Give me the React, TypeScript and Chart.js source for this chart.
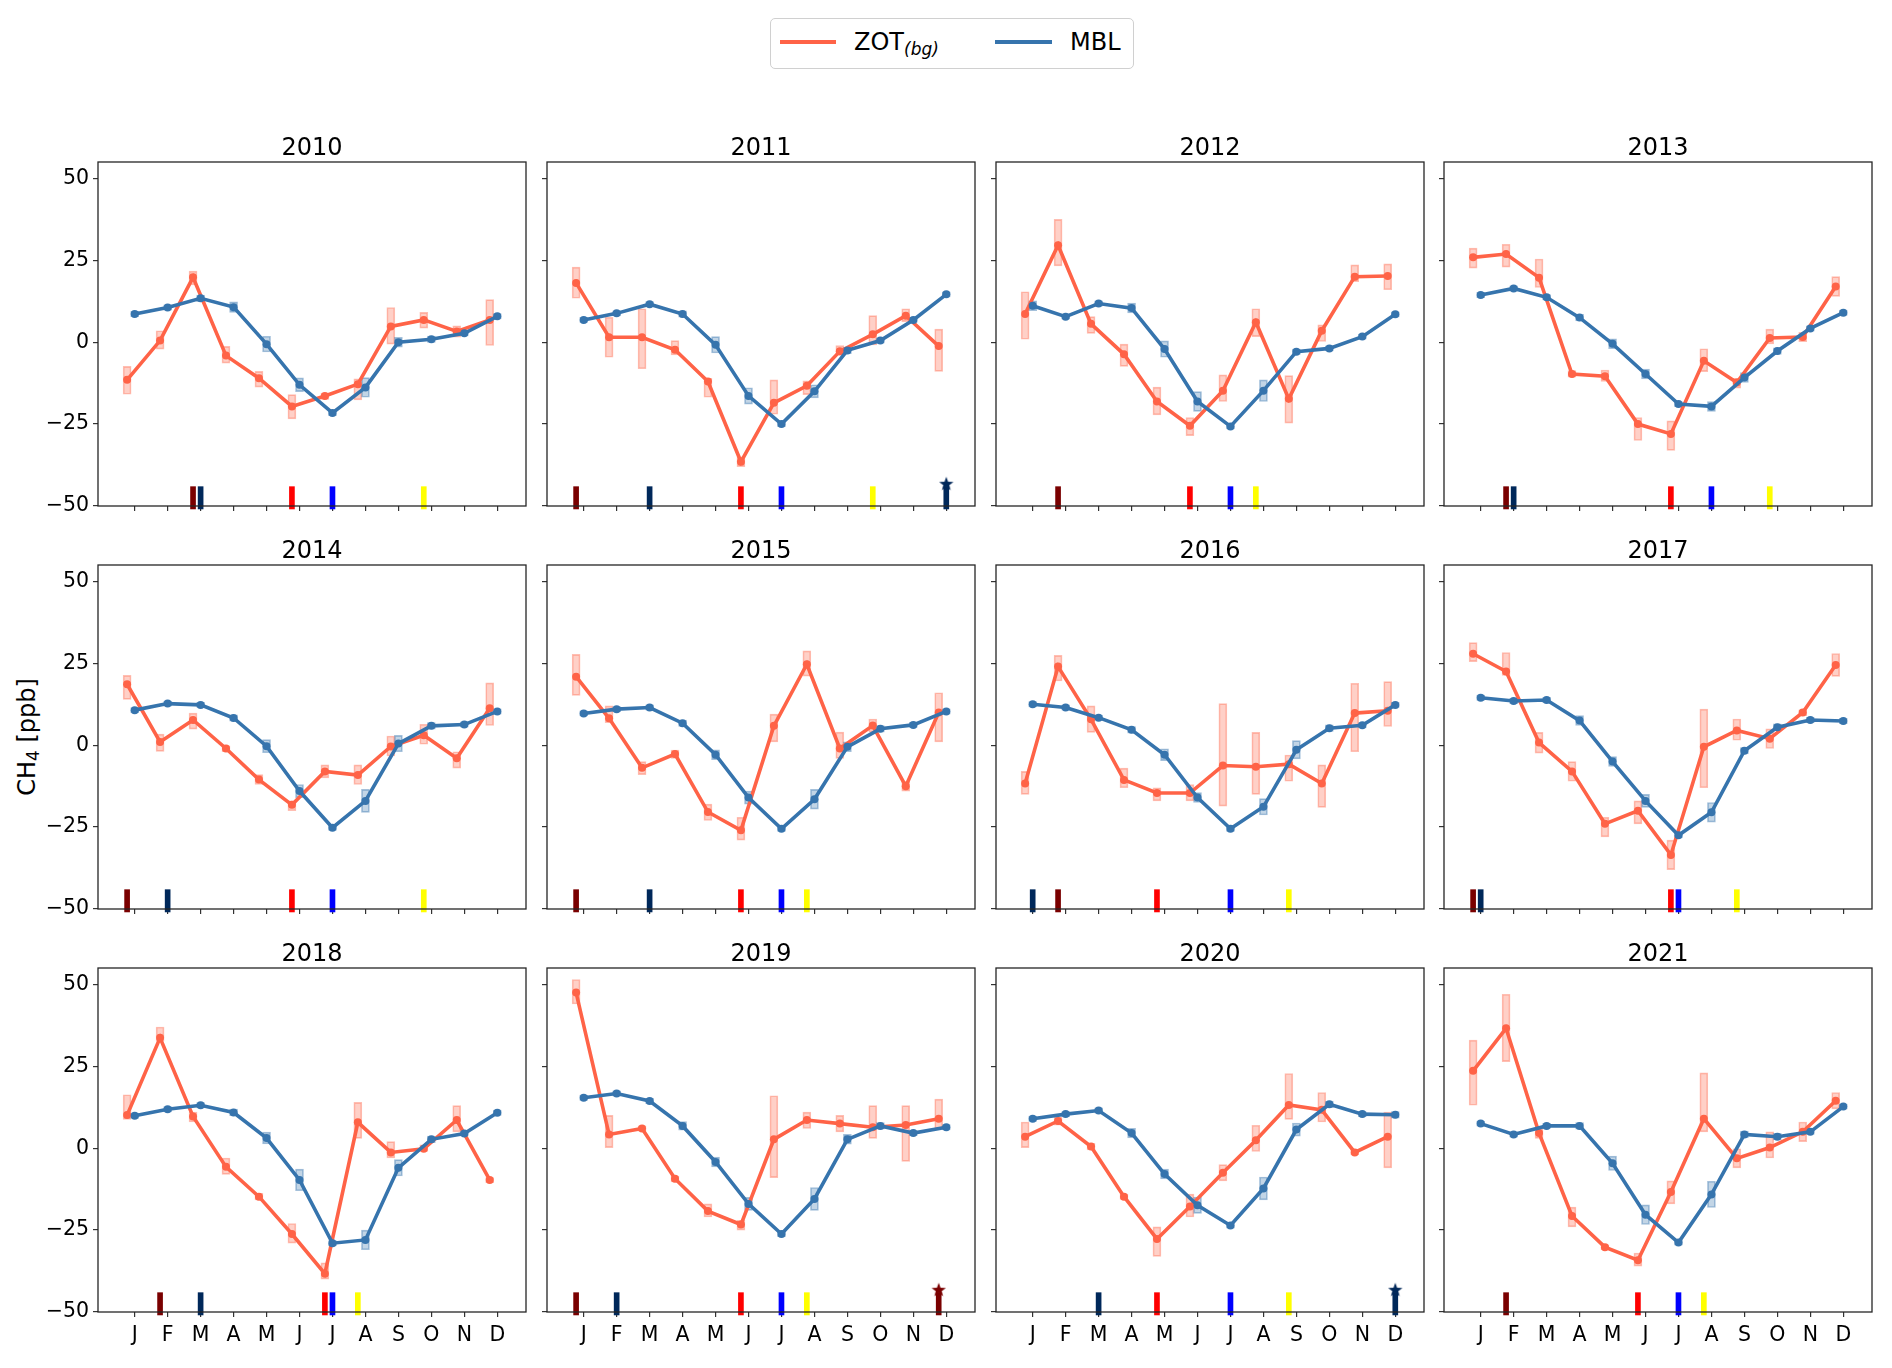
import React, { useEffect, useRef } from 'react';
import { Chart, registerables } from 'chart.js';

Chart.register(...registerables);

// ---------------- data ----------------
const YEARS = [2010, 2011, 2012, 2013, 2014, 2015, 2016, 2017, 2018, 2019, 2020, 2021];
const MONTHS = [1, 2, 3, 4, 5, 6, 7, 8, 9, 10, 11, 12];
const MONTH_LABELS = ['J', 'F', 'M', 'A', 'M', 'J', 'J', 'A', 'S', 'O', 'N', 'D'];
const Y_TICKS = [-50, -25, 0, 25, 50];
const ZOT_OFFSET = -0.23; // ZOT points sit a week before the MBL points

const ZOT_MEAN = [
  [-11.5, 0.5, 19.8, -4.1, -11, -19.6, -16.4, -12.8, 4.8, 6.8, 3.3, 6.8],
  [18.1, 1.5, 1.5, -2.3, -12, -36.5, -18.5, -13.3, -2.8, 2.4, 8.1, -1.2],
  [8.6, 29.6, 5.6, -3.7, -18.1, -25.5, -14.8, 6.1, -17.3, 3.5, 20, 20.2],
  [25.9, 26.9, 19.7, -9.7, -10.4, -25, -28, -5.7, -12.3, 1.3, 1.6, 17],
  [18.6, 1.0, 7.7, -1, -10.5, -18.2, -8, -9.1, -0.4, 3, -4, 11.3],
  [20.9, 8.2, -6.9, -2.7, -20.4, -26, 5.9, 24.7, -1, 6, -12.5, 10],
  [-11.7, 24, 7.9, -10.6, -14.6, -14.6, -6.2, -6.6, -5.8, -11.7, 9.8, 10.5],
  [27.9, 22.5, 0.8, -8, -24, -20, -33.5, -0.5, 4.5, 2, 10, 24.5],
  [10.1, 33.7, 9.7, -5.7, -14.8, -26.2, -38.3, 7.9, -1.3, -0.2, 8.6, -9.7],
  [47.5, 4.2, 6, -9.3, -19.2, -23.3, 2.7, 8.6, 7.5, 6.4, 7.1, 9],
  [3.5, 8.3, 0.5, -14.8, -27.7, -17.8, -7.5, 2.4, 13.2, 11.7, -1.3, 3.5],
  [23.6, 36.6, 4.6, -20.7, -30.2, -34.2, -13.4, 9, -3.1, 0.2, 5, 14.5],
];
const ZOT_HIGH = [
  [-7.4, 3.5, 21.7, -1.3, -8.9, -16, -15.5, -11.2, 10.6, 9.1, 5, 13],
  [22.9, 7.6, 10.2, 0.5, -11, -35, -11.5, -11.8, -1, 8.1, 10.2, 4],
  [15.4, 37.5, 7.8, -0.6, -13.7, -23, -10, 10.2, -10.2, 5.3, 23.6, 23.9],
  [28.7, 29.9, 25.4, -8.7, -8.5, -23, -24, -2, -11, 4, 3, 20],
  [21.3, 3.4, 9.8, 0, -9, -17, -6, -6, 2.8, 6.4, -2, 19],
  [27.7, 12, -5, -1.5, -18, -22, 9.5, 28.8, 4, 8, -11, 16],
  [-8, 27.4, 12, -7, -13, -12, 12.7, 3.9, -3, -6, 18.9, 19.4],
  [31.3, 28.3, 3.9, -5, -22, -17, -29, 11, 8, 5, 10.8, 28],
  [16.3, 37, 11, -3, -13.8, -23, -35, 14, 2, 1, 13, -9],
  [51.5, 10, 6.8, -8.5, -17, -22, 16, 11, 10, 13, 13, 15],
  [8, 9.5, 1.5, -14, -24, -14, -5, 7, 22.8, 17, -0.5, 11],
  [33, 47, 6, -18, -29.5, -32, -10, 23, 0, 5, 8, 17],
];
const ZOT_LOW = [
  [-15.9, -2.1, 17.5, -6.4, -13.7, -23.4, -17.5, -17.6, -0.6, 4.3, 1.5, -1],
  [13.4, -4.6, -8.1, -3.9, -16.8, -38, -22, -16, -4, -0.8, 6.3, -8.9],
  [0.9, 23.3, 2.7, -7.4, -22.2, -28.5, -18.1, 1.7, -24.7, 0.2, 18.5, 16],
  [22.6, 22.9, 16.7, -10.7, -12, -30, -33, -9, -14, -0.5, 0, 14],
  [14, -1.9, 4.9, -2, -12, -20, -10, -12, -3.3, 0.3, -7, 6],
  [15.2, 6.9, -9, -4, -23, -29, 1, 21.1, -4, 4, -14, 1],
  [-15, 19.6, 3.9, -13, -17, -17, -18.6, -15, -11, -19, -2, 5.7],
  [25.5, 21.3, -2.4, -11, -28, -24, -38, -13, 1.5, -1, 9, 21],
  [8.8, 32.7, 8, -8, -15.8, -29, -40, 3, -3, -1, 5, -10.5],
  [44, 0, 5.2, -10.3, -21, -25, -9, 6, 5, 3, -4, 6],
  [0, 7, -0.5, -15.6, -33, -21, -10, -1, 8.8, 8, -2, -6],
  [13.1, 26.4, 3, -24, -31, -36, -17, 5, -6, -3, 2, 12],
];
const MBL_MEAN = [
  [8.6, 10.6, 13.4, 10.7, -0.6, -13, -21.6, -13.8, 0, 0.9, 2.7, 7.9],
  [6.8, 8.8, 11.6, 8.6, -0.8, -16.4, -25, -15, -2.5, 0.5, 6.8, 14.6],
  [11.1, 7.8, 11.8, 10.4, -2.1, -18.1, -25.7, -14.8, -2.9, -1.9, 1.7, 8.5],
  [14.4, 16.4, 13.7, 7.5, -0.5, -9.7, -18.9, -19.6, -10.8, -2.7, 4.2, 9],
  [10.7, 12.7, 12.3, 8.3, -0.3, -14, -25.2, -17, 0.5, 5.9, 6.3, 10.3],
  [9.7, 11, 11.5, 6.7, -2.9, -16, -25.5, -16.5, -0.5, 5, 6.2, 10.3],
  [12.5, 11.5, 8.4, 4.7, -2.9, -16, -25.5, -18.8, -1.4, 5.2, 6.1, 12.3],
  [14.5, 13.5, 13.8, 7.5, -5, -17, -27.5, -20.5, -1.7, 5.5, 7.7, 7.4],
  [9.9, 11.9, 13.1, 10.9, 3.1, -9.7, -29, -28, -6, 2.7, 4.5, 10.8],
  [15.4, 16.7, 14.4, 6.8, -4.2, -17, -26.2, -15.5, 2.7, 6.8, 4.6, 6.4],
  [9, 10.4, 11.5, 4.6, -7.9, -17.4, -23.6, -12.3, 5.7, 13.4, 10.4, 10.2],
  [7.5, 4.2, 6.8, 6.8, -4.6, -20.3, -28.8, -14.1, 4.2, 3.5, 5, 12.7],
];
const MBL_ERR = [
  [0.8, 0.8, 1, 1.6, 2.4, 2.1, 0.8, 3, 1.5, 1, 0.8, 0.8],
  [0.8, 0.8, 0.8, 1, 2.5, 2.5, 0.8, 2, 1, 0.8, 0.8, 0.8],
  [1.5, 0.8, 0.8, 1.5, 2.5, 3, 0.8, 3.3, 0.8, 0.8, 0.8, 0.8],
  [0.8, 0.8, 0.8, 1, 1.5, 1.5, 0.8, 1.5, 1.5, 1, 0.8, 0.8],
  [0.8, 0.8, 0.8, 1, 2, 2, 0.8, 3.5, 2.5, 1, 0.8, 0.8],
  [0.8, 0.8, 0.8, 1, 1.5, 2, 0.8, 3, 1.5, 1, 0.8, 0.8],
  [0.8, 0.8, 0.8, 1, 1.8, 1.5, 0.8, 2.5, 2.8, 1, 0.8, 0.8],
  [0.8, 0.8, 0.8, 1.5, 1.5, 2, 0.8, 3, 1, 1, 0.8, 0.8],
  [0.8, 0.8, 0.8, 1, 1.8, 3.3, 0.8, 3, 2.5, 1, 0.8, 0.8],
  [0.8, 0.8, 0.8, 1.3, 1.5, 2, 0.8, 3.5, 1.5, 1, 0.8, 0.8],
  [0.8, 0.8, 0.8, 1.5, 1.5, 2.5, 0.8, 3.5, 2, 1, 0.8, 1],
  [0.8, 0.8, 0.8, 1, 2.2, 3, 0.8, 4, 1, 1, 0.8, 0.8],
];

// month markers under each panel (null = no marker)
const ZOT_MAX_MONTH = [3, 1, 2, 2, 1, 1, 2, 1, 2, 1, null, 2];
const MBL_MAX_MONTH = [3, 3, null, 2, 2, 3, 1, 1, 3, 2, 3, null];
const ZOT_MIN_MONTH = [6, 6, 6, 7, 6, 6, 5, 7, 7, 6, 5, 6];
const MBL_MIN_MONTH = [7, 7, 7, 8, 7, 7, 7, 7, 7, 7, 7, 7];
const ZOT_YELLOW_MONTH = [10, 10, 8, 10, 10, 8, 9, 9, 8, 8, 9, 8];
const STAR_YEARS = [2011, 2019, 2020];
const STAR_SERIES = ['mbl', 'zot', 'mbl'];
const STAR_MONTHS = [12, 12, 12];

// ---------------- style / layout ----------------
const ZOT_COLOR = '#ff6347';
const MBL_COLOR = '#3674ad';
const ZOT_BOX = 'rgba(255,99,71,0.30)';
const ZOT_BOX_EDGE = 'rgba(255,99,71,0.42)';
const MBL_BOX = 'rgba(54,116,173,0.30)';
const MBL_BOX_EDGE = 'rgba(54,116,173,0.45)';
const C_ZOT_MAX = '#7a0000';
const C_MBL_MAX = '#00285a';
const C_ZOT_MIN = '#ff0000';
const C_MBL_MIN = '#0000ff';
const C_YELLOW = '#ffff00';

const FONT = "'DejaVu Sans', sans-serif";
const COL_LEFT = [98, 547, 996, 1444];
const ROW_TOP = [162, 565, 968];
const PW = 428;
const PH = 344;
const AXW = 62;
const AXH = 44;
const PAD_T = 4;
const PAD_R = 4;
const X_MIN = -0.113;
const X_MAX = 12.871;
const Y_MIN = -50;
const Y_MAX = 55;
const MARK_LO = -50.9;
const MARK_HI = -44.1;
const STAR_Y = -43.2;

function starImage(color: string): HTMLCanvasElement {
  const c = document.createElement('canvas');
  c.width = 16;
  c.height = 16;
  const ctx = c.getContext('2d')!;
  ctx.fillStyle = color;
  ctx.beginPath();
  for (let i = 0; i < 10; i++) {
    const r = i % 2 === 0 ? 7.5 : 3.1;
    const a = -Math.PI / 2 + (i * Math.PI) / 5;
    const px = 8 + r * Math.cos(a);
    const py = 8.5 + r * Math.sin(a);
    if (i === 0) ctx.moveTo(px, py);
    else ctx.lineTo(px, py);
  }
  ctx.closePath();
  ctx.fill();
  return c;
}

const framePlugin = {
  id: 'frame',
  afterDraw(chart: any) {
    const { ctx, chartArea: a } = chart;
    ctx.save();
    ctx.strokeStyle = '#262626';
    ctx.lineWidth = 1.3;
    ctx.strokeRect(a.left, a.top, a.right - a.left, a.bottom - a.top);
    ctx.restore();
  },
};

function markerDataset(x: number, color: string) {
  return {
    type: 'bar' as const,
    data: [{ x, y: [MARK_LO, MARK_HI] }],
    backgroundColor: color,
    borderWidth: 0,
    barThickness: 5,
    maxBarThickness: 5,
    grouped: false,
    clip: false as any,
    order: 1,
  };
}

function buildConfig(i: number): any {
  const row = Math.floor(i / 4);
  const col = i % 4;
  const zotPts = MONTHS.map((m, k) => ({ x: m + ZOT_OFFSET, y: ZOT_MEAN[i][k] }));
  const mblPts = MONTHS.map((m, k) => ({ x: m, y: MBL_MEAN[i][k] }));
  const zotBoxes = MONTHS.map((m, k) => ({ x: m + ZOT_OFFSET, y: [ZOT_LOW[i][k], ZOT_HIGH[i][k]] }));
  const mblBoxes = MONTHS.map((m, k) => ({
    x: m,
    y: [MBL_MEAN[i][k] - MBL_ERR[i][k], MBL_MEAN[i][k] + MBL_ERR[i][k]],
  }));

  const datasets: any[] = [
    {
      type: 'bar',
      data: zotBoxes,
      backgroundColor: ZOT_BOX,
      borderColor: ZOT_BOX_EDGE,
      borderWidth: 1,
      borderSkipped: false,
      barThickness: 8,
      maxBarThickness: 8,
      grouped: false,
      order: 6,
    },
    {
      type: 'bar',
      data: mblBoxes,
      backgroundColor: MBL_BOX,
      borderColor: MBL_BOX_EDGE,
      borderWidth: 1,
      borderSkipped: false,
      barThickness: 8,
      maxBarThickness: 8,
      grouped: false,
      order: 5,
    },
    {
      type: 'line',
      data: zotPts,
      borderColor: ZOT_COLOR,
      backgroundColor: ZOT_COLOR,
      borderWidth: 3.6,
      pointRadius: 4,
      pointBorderWidth: 0,
      tension: 0,
      order: 4,
    },
    {
      type: 'line',
      data: mblPts,
      borderColor: MBL_COLOR,
      backgroundColor: MBL_COLOR,
      borderWidth: 3.6,
      pointRadius: 4,
      pointBorderWidth: 0,
      tension: 0,
      order: 3,
    },
  ];

  const zm = ZOT_MAX_MONTH[i];
  if (zm !== null) datasets.push(markerDataset(zm + ZOT_OFFSET, C_ZOT_MAX));
  const mm = MBL_MAX_MONTH[i];
  if (mm !== null) datasets.push(markerDataset(mm, C_MBL_MAX));
  datasets.push(markerDataset(ZOT_MIN_MONTH[i] + ZOT_OFFSET, C_ZOT_MIN));
  datasets.push(markerDataset(MBL_MIN_MONTH[i], C_MBL_MIN));
  datasets.push(markerDataset(ZOT_YELLOW_MONTH[i] + ZOT_OFFSET, C_YELLOW));

  STAR_YEARS.forEach((yr, s) => {
    if (yr !== YEARS[i]) return;
    const isZot = STAR_SERIES[s] === 'zot';
    const color = isZot ? C_ZOT_MAX : C_MBL_MAX;
    const x = STAR_MONTHS[s] + (isZot ? ZOT_OFFSET : 0);
    datasets.push(markerDataset(x, color));
    datasets.push({
      type: 'line',
      data: [{ x, y: STAR_Y }],
      showLine: false,
      pointStyle: starImage(color),
      pointRadius: 8,
      clip: false,
      order: 0,
    });
  });

  return {
    type: 'line',
    data: { datasets },
    plugins: [framePlugin],
    options: {
      animation: false,
      responsive: false,
      events: [],
      layout: { autoPadding: false, padding: { top: PAD_T, right: PAD_R, left: 0, bottom: 0 } },
      plugins: { legend: { display: false }, title: { display: false }, tooltip: { enabled: false } },
      scales: {
        x: {
          type: 'linear',
          min: X_MIN,
          max: X_MAX,
          offset: false,
          bounds: 'data',
          afterBuildTicks: (s: any) => {
            s.ticks = MONTHS.map((v) => ({ value: v }));
          },
          afterFit: (s: any) => {
            s.height = AXH;
            s.paddingLeft = 0;
            s.paddingRight = 0;
          },
          ticks: {
            display: row === 2,
            autoSkip: false,
            maxRotation: 0,
            minRotation: 0,
            padding: 6,
            color: '#000',
            font: { family: FONT, size: 20.5 },
            callback: (_v: any, idx: number) => MONTH_LABELS[idx],
          },
          grid: { display: true, offset: false, drawOnChartArea: false, drawTicks: true, tickLength: 5, color: '#333', lineWidth: 1.2 },
          border: { display: false },
        },
        y: {
          type: 'linear',
          min: Y_MIN,
          max: Y_MAX,
          offset: false,
          afterBuildTicks: (s: any) => {
            s.ticks = Y_TICKS.map((v) => ({ value: v }));
          },
          afterFit: (s: any) => {
            s.width = AXW;
            s.paddingTop = 0;
            s.paddingBottom = 0;
          },
          ticks: {
            display: col === 0,
            padding: 4,
            color: '#000',
            font: { family: FONT, size: 20.5 },
            callback: (v: any) => String(v).replace('-', '\u2212'),
          },
          grid: { display: true, drawOnChartArea: false, drawTicks: true, tickLength: 5, color: '#333', lineWidth: 1.2 },
          border: { display: false },
        },
      },
    },
  };
}

function Panel({ i }: { i: number }) {
  const ref = useRef<HTMLCanvasElement>(null);
  const row = Math.floor(i / 4);
  const col = i % 4;
  const W = PW + AXW + PAD_R;
  const H = PH + AXH + PAD_T;
  useEffect(() => {
    const chart = new Chart(ref.current!, buildConfig(i));
    return () => chart.destroy();
  }, [i]);
  return (
    <>
      <canvas
        ref={ref}
        width={W}
        height={H}
        style={{ position: 'absolute', left: COL_LEFT[col] - AXW, top: ROW_TOP[row] - PAD_T, width: W, height: H }}
      />
      <div
        style={{
          position: 'absolute',
          left: COL_LEFT[col],
          width: PW,
          top: ROW_TOP[row] - 16 - 14.5,
          height: 30,
          lineHeight: '30px',
          textAlign: 'center',
          fontFamily: FONT,
          fontSize: 24,
          color: '#000',
        }}
      >
        {YEARS[i]}
      </div>
    </>
  );
}

export default function App() {
  return (
    <div style={{ position: 'absolute', left: 0, top: 0, width: 1892, height: 1368, background: '#fff', fontFamily: FONT }}>
      {/* legend */}
      <div
        style={{
          position: 'absolute',
          left: 770,
          top: 18,
          width: 364,
          height: 51,
          boxSizing: 'border-box',
          border: '1px solid #d0d0d0',
          borderRadius: 5,
          background: '#fff',
        }}
      />
      <div style={{ position: 'absolute', left: 780, top: 40, width: 56, height: 4, background: ZOT_COLOR }} />
      <div style={{ position: 'absolute', left: 854, top: 27, height: 30, lineHeight: '30px', fontSize: 24, color: '#000', whiteSpace: 'nowrap' }}>
        ZOT<sub style={{ fontSize: 17, fontStyle: 'italic', verticalAlign: '-5px' }}>(bg)</sub>
      </div>
      <div style={{ position: 'absolute', left: 995, top: 40, width: 57, height: 4, background: MBL_COLOR }} />
      <div style={{ position: 'absolute', left: 1070, top: 27, height: 30, lineHeight: '30px', fontSize: 24, color: '#000' }}>MBL</div>

      {/* y label */}
      <div
        style={{
          position: 'absolute',
          left: 30,
          top: 737,
          transform: 'translate(-50%, -50%) rotate(-90deg)',
          fontSize: 24,
          whiteSpace: 'nowrap',
          color: '#000',
          lineHeight: '30px',
        }}
      >
        CH<sub style={{ fontSize: 17, verticalAlign: '-4px' }}>4</sub> [ppb]
      </div>

      {YEARS.map((_, i) => (
        <Panel key={i} i={i} />
      ))}
    </div>
  );
}
